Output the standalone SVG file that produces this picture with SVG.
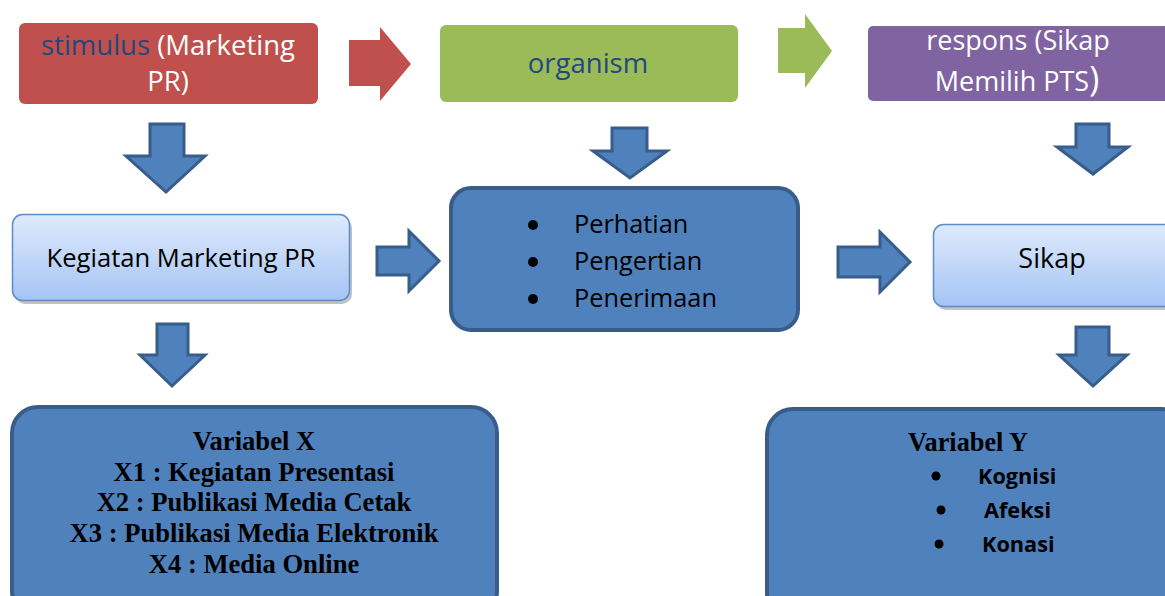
<svg xmlns="http://www.w3.org/2000/svg" width="1165" height="596" viewBox="0 0 1165 596">
<defs>
<linearGradient id="lg" x1="0" y1="0" x2="0" y2="1">
<stop offset="0" stop-color="#DEEAFC"/>
<stop offset="1" stop-color="#A5C4F4"/>
</linearGradient>
</defs>
<style>
.sans{font-family:"Open Sans","Noto Sans","Liberation Sans",sans-serif;}
.serif{font-family:"Liberation Serif","Times New Roman",serif;font-weight:bold;}
.blue{fill:#4F81BD;stroke:#385D8A;stroke-width:3;stroke-linejoin:miter;}
.bigbox{fill:#4F81BD;stroke:#385D8A;stroke-width:4;}
.light{fill:url(#lg);stroke:#5B8BCB;stroke-width:1.5;}
.shadow{fill:#9a9a9a;opacity:0.6;}
.w{fill:#ffffff;}
.dk{fill:#1F497D;}
.k{fill:#000000;}
</style>
<rect width="1165" height="596" fill="#ffffff"/>
<g id="connectors">
<polygon points="349,40 380,40 380,27 411,64 380,101 380,86 349,86" fill="#C0504D"/>
<polygon points="778,28 805,28 805,14 832,51 805,88 805,73 778,73" fill="#9BBB59"/>
<polygon class="blue" points="150,124 184,124 184,156 205,156 166,192 126,156 150,156"/>
<polygon class="blue" points="612,128 647,128 647,151 667,151 630,178 593,151 612,151"/>
<polygon class="blue" points="1076,124 1109,124 1109,147 1128,147 1093,174 1057,147 1076,147"/>
<polygon class="blue" points="157,324 188,324 188,355 205,355 172,386 140,355 157,355"/>
<polygon class="blue" points="1076,327 1109,327 1109,355 1127,355 1093,386 1059,355 1076,355"/>
<polygon class="blue" points="377,247 409,247 409,231 439,261 409,291 409,275 377,275"/>
<polygon class="blue" points="838,247 880,247 880,232 910,262 880,292 880,277 838,277"/>
</g>
<g id="stimulus">
<rect x="19" y="23" width="299" height="81" rx="6" fill="#C0504D"/>
<text class="sans" font-size="27.5" text-anchor="middle" x="168" y="55"><tspan class="dk">stimulus</tspan><tspan class="w"> (Marketing</tspan></text>
<text class="sans w" font-size="27.5" text-anchor="middle" x="168" y="91">PR)</text>
</g>
<g id="organism">
<rect x="440" y="25" width="298" height="77" rx="6" fill="#9BBB59"/>
<text class="sans dk" font-size="27.5" text-anchor="middle" x="588" y="73">organism</text>
</g>
<g id="respons">
<rect x="868" y="26" width="305" height="75" rx="5" fill="#8064A2"/>
<text class="sans w" font-size="27" text-anchor="middle" x="1018" y="50">respons (Sikap</text>
<text class="sans w" font-size="27" text-anchor="middle" x="1017" y="91">Memilih PTS<tspan font-size="34">)</tspan></text>
</g>
<g id="kegiatan">
<rect class="shadow" x="15" y="218" width="337" height="86" rx="10"/>
<rect class="light" x="12.5" y="214.5" width="337" height="86" rx="10"/>
<text class="sans k" font-size="25.6" text-anchor="middle" x="181" y="267">Kegiatan Marketing PR</text>
</g>
<g id="organism-list">
<rect class="bigbox" x="451" y="188" width="347" height="142" rx="20"/>
<circle cx="533" cy="225" r="5" class="k"/>
<circle cx="533" cy="262" r="5" class="k"/>
<circle cx="533" cy="299" r="5" class="k"/>
<text class="sans k" font-size="25.3" x="574" y="233">Perhatian</text>
<text class="sans k" font-size="25.3" x="574" y="270">Pengertian</text>
<text class="sans k" font-size="25.3" x="574" y="307">Penerimaan</text>
</g>
<g id="sikap">
<rect class="shadow" x="936" y="228" width="240" height="82" rx="10"/>
<rect class="light" x="933.5" y="224.5" width="240" height="82" rx="10"/>
<text class="sans k" font-size="27" text-anchor="middle" x="1052" y="268">Sikap</text>
</g>
<g id="variabel-x">
<rect class="bigbox" x="12" y="407" width="485" height="210" rx="26"/>
<text class="serif k" font-size="26.6" text-anchor="middle" x="254" y="450">Variabel X</text>
<text class="serif k" font-size="26.6" text-anchor="middle" x="254" y="481">X1 : Kegiatan Presentasi</text>
<text class="serif k" font-size="26.6" text-anchor="middle" x="254" y="511">X2 : Publikasi Media Cetak</text>
<text class="serif k" font-size="26.6" text-anchor="middle" x="254" y="542">X3 : Publikasi Media Elektronik</text>
<text class="serif k" font-size="26.6" text-anchor="middle" x="254" y="573">X4 : Media Online</text>
</g>
<g id="variabel-y">
<rect class="bigbox" x="767" y="409" width="420" height="210" rx="26"/>
<text class="serif k" font-size="26.3" text-anchor="middle" x="968" y="451">Variabel Y</text>
<circle cx="936" cy="476" r="4.5" class="k"/>
<circle cx="941" cy="510" r="4.5" class="k"/>
<circle cx="939" cy="544" r="4.5" class="k"/>
<text class="sans k" font-size="21.7" font-weight="bold" x="978" y="484">Kognisi</text>
<text class="sans k" font-size="21.7" font-weight="bold" x="984" y="518">Afeksi</text>
<text class="sans k" font-size="21.7" font-weight="bold" x="982" y="552">Konasi</text>
</g>
</svg>
